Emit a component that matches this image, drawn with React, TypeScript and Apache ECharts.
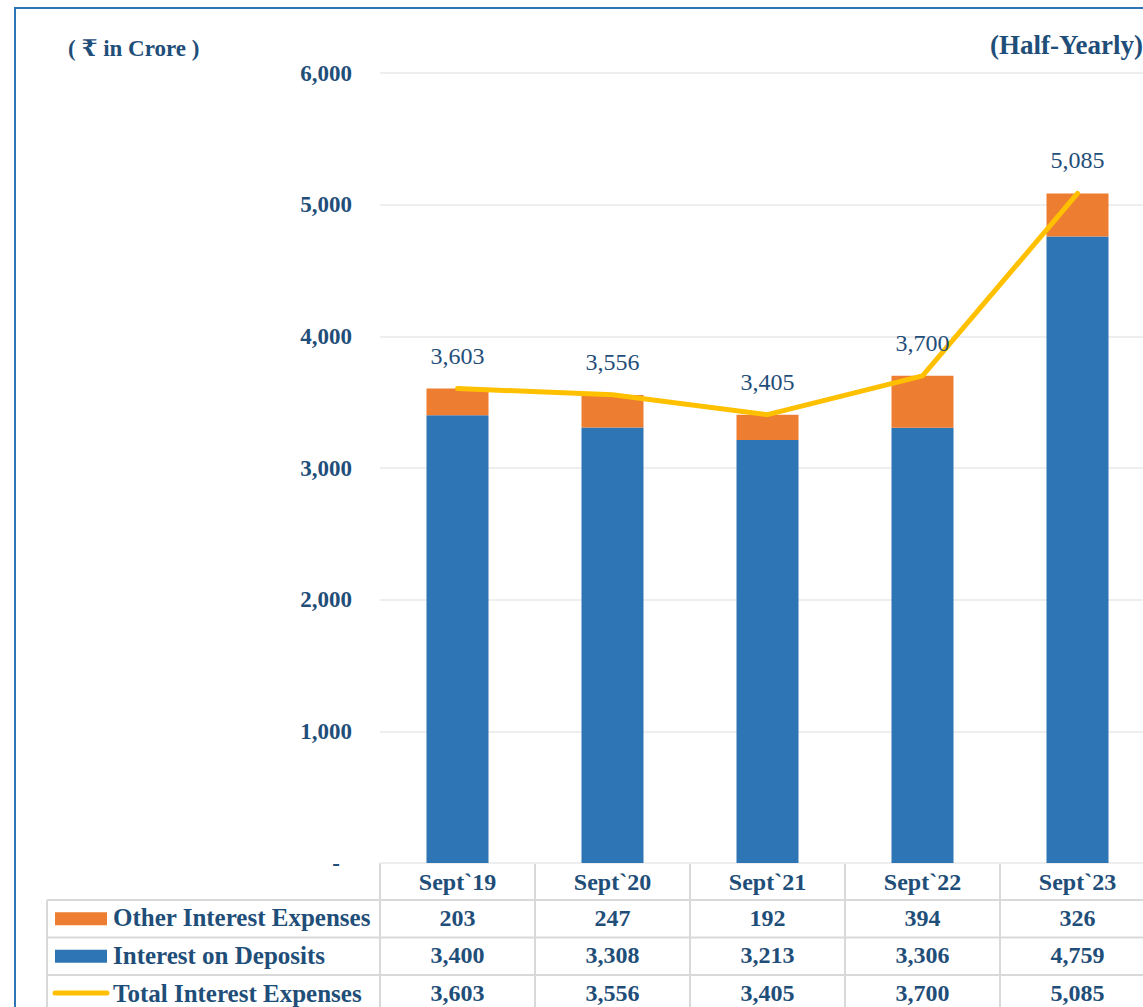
import React, { useEffect, useRef } from "react";
import * as echarts from "echarts";

const categories = ["Sept`19", "Sept`20", "Sept`21", "Sept`22", "Sept`23"];
const otherInterest = [203, 247, 192, 394, 326];
const interestDeposits = [3400, 3308, 3213, 3306, 4759];
const totalInterest = [3603, 3556, 3405, 3700, 5085];
const yTicks = [0, 1000, 2000, 3000, 4000, 5000, 6000];

const TEXT = "#1F4E79";
const BLUE = "#2E75B6";
const ORANGE = "#ED7D31";
const YELLOW = "#FFC000";
const GRIDC = "#D9D9D9";
const FONT = "'Liberation Serif', 'DejaVu Serif', 'Noto Sans', serif";

const fmt = (v: number) => v.toLocaleString("en-US");

export default function App() {
  const ref = useRef<HTMLDivElement>(null);
  useEffect(() => {
    if (!ref.current) return;
    const chart = echarts.init(ref.current, null, { renderer: "svg" });
    const gLeft = 380;
    const gTop = 73;
    const colW = 155;
    const gW = colW * categories.length;
    const gH = 790;
    const axisY = gTop + gH;
    const rowsY = [axisY, 900, 937.5, 975, 1013];
    const tableLeft = 47;
    const right = gLeft + gW;

    const graphics: any[] = [];
    graphics.push({
      type: "rect",
      shape: { x: 15, y: 8, width: 1300, height: 1200 },
      style: { fill: "none", stroke: BLUE, lineWidth: 2 },
      silent: true,
    });
    graphics.push({
      type: "text",
      x: 68,
      y: 48,
      style: { text: "( ₹ in Crore )", font: `bold 23px ${FONT}`, fill: TEXT, textVerticalAlign: "middle" },
    });
    graphics.push({
      type: "text",
      x: 1143,
      y: 45,
      style: { text: "(Half-Yearly)", font: `bold 27px ${FONT}`, fill: TEXT, textAlign: "right", textVerticalAlign: "middle" },
    });
    rowsY.forEach((y, i) => {
      graphics.push({
        type: "line",
        shape: { x1: i === 0 ? gLeft : tableLeft, y1: y, x2: right + 5, y2: y },
        style: { stroke: GRIDC, lineWidth: 2 },
        silent: true,
      });
    });
    graphics.push({
      type: "line",
      shape: { x1: tableLeft, y1: rowsY[1], x2: tableLeft, y2: rowsY[4] },
      style: { stroke: GRIDC, lineWidth: 2 },
    });
    for (let i = 0; i <= categories.length; i++) {
      const x = gLeft + colW * i;
      graphics.push({
        type: "line",
        shape: { x1: x, y1: axisY, x2: x, y2: rowsY[4] },
        style: { stroke: GRIDC, lineWidth: 2 },
      });
    }
    const rows = [
      { name: "Other Interest Expenses", data: otherInterest, kind: "rect", color: ORANGE },
      { name: "Interest on Deposits", data: interestDeposits, kind: "rect", color: BLUE },
      { name: "Total Interest Expenses", data: totalInterest, kind: "line", color: YELLOW },
    ];
    rows.forEach((r, ri) => {
      const cy = (rowsY[ri + 1] + rowsY[ri + 2]) / 2;
      if (r.kind === "rect") {
        graphics.push({
          type: "rect",
          shape: { x: 55, y: cy - 6.5, width: 52, height: 13 },
          style: { fill: r.color },
        });
      } else {
        graphics.push({
          type: "line",
          shape: { x1: 55, y1: cy - 1, x2: 107, y2: cy - 1 },
          style: { stroke: r.color, lineWidth: 5, lineCap: "round" },
        });
      }
      graphics.push({
        type: "text",
        x: 113,
        y: cy - 1,
        style: { text: r.name, font: `bold 25px ${FONT}`, fill: TEXT, textVerticalAlign: "middle" },
      });
      r.data.forEach((v, ci) => {
        graphics.push({
          type: "text",
          x: gLeft + colW * ci + colW / 2,
          y: cy - 1,
          style: { text: fmt(v), font: `bold 24px ${FONT}`, fill: TEXT, textAlign: "center", textVerticalAlign: "middle" },
        });
      });
    });

    chart.setOption({
      animation: false,
      backgroundColor: "#ffffff",
      grid: { left: gLeft, top: gTop, width: gW, height: gH, containLabel: false },
      xAxis: {
        type: "category",
        data: categories,
        axisTick: { show: false },
        axisLine: { show: false },
        axisLabel: { color: TEXT, fontFamily: FONT, fontWeight: "bold", fontSize: 24, margin: 7 },
      },
      yAxis: {
        type: "value",
        min: yTicks[0],
        max: yTicks[yTicks.length - 1],
        interval: yTicks[1] - yTicks[0],
        axisLine: { show: false },
        axisTick: { show: false },
        splitLine: { lineStyle: { color: "#EEEEEE", width: 2 } },
        axisLabel: {
          color: TEXT,
          fontFamily: FONT,
          fontWeight: "bold",
          fontSize: 23,
          margin: 28,
          formatter: (v: number) => (v === 0 ? "{d|-}" : fmt(v)),
          rich: { d: { color: TEXT, fontFamily: FONT, fontWeight: "bold", fontSize: 23, padding: [0, 12, 0, 0] } },
        },
      },
      series: [
        {
          name: "Interest on Deposits",
          type: "bar",
          stack: "a",
          barWidth: 62,
          data: interestDeposits,
          itemStyle: { color: BLUE },
        },
        {
          name: "Other Interest Expenses",
          type: "bar",
          stack: "a",
          barWidth: 62,
          data: otherInterest,
          itemStyle: { color: ORANGE },
        },
        {
          name: "Total Interest Expenses",
          type: "line",
          data: totalInterest,
          symbol: "circle",
          symbolSize: 2,
          showSymbol: true,
          lineStyle: { color: YELLOW, width: 5, cap: "round", join: "round" },
          itemStyle: { color: YELLOW },
          label: {
            show: true,
            position: "top",
            distance: 20,
            color: TEXT,
            fontFamily: FONT,
            fontSize: 24,
            formatter: (p: any) => fmt(p.value),
          },
          labelLayout: { hideOverlap: false },
          z: 5,
        },
      ],
      graphic: graphics,
    });
    return () => chart.dispose();
  }, []);
  return (
    <div style={{ position: "fixed", left: 0, top: 0, width: 1143, height: 1007, overflow: "hidden", background: "#fff" }}>
      <div ref={ref} style={{ width: 1165, height: 1040 }} />
    </div>
  );
}
